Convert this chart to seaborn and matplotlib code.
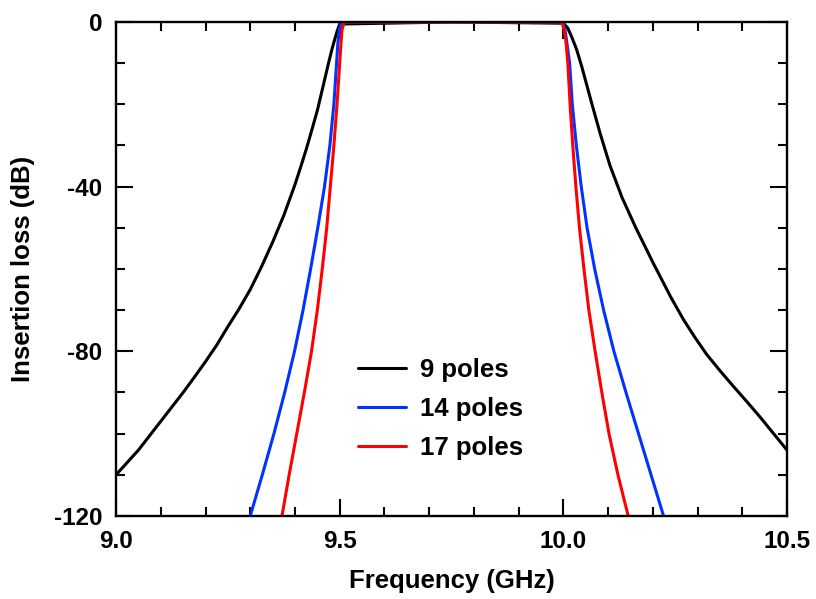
import pandas as pd
import seaborn as sns
import matplotlib.pyplot as plt
from matplotlib.ticker import MultipleLocator

# values (frequency in GHz, insertion loss in dB)
freq_9 = [9.000, 9.025, 9.050, 9.075, 9.100, 9.125, 9.150, 9.175, 9.200, 9.225,
          9.250, 9.275, 9.300, 9.325, 9.350, 9.375, 9.400, 9.412, 9.425, 9.437,
          9.450, 9.462, 9.475, 9.483, 9.490, 9.495, 9.500, 9.750,
          10.000, 10.010, 10.020, 10.030, 10.041, 10.052, 10.063, 10.082, 10.104,
          10.131, 10.162, 10.201, 10.240, 10.268, 10.294, 10.320, 10.350, 10.380,
          10.410, 10.440, 10.470, 10.500]
loss_9 = [-110, -107, -104, -100.5, -97, -93.5, -90, -86.3, -82.5, -78.5,
          -74, -69.7, -65, -59.5, -53.5, -47, -39.5, -35.5, -31, -26.5,
          -21.5, -16, -10, -6.5, -3.8, -2, -0.5, 0,
          -0.3, -1.5, -4, -6.8, -10.8, -15.2, -19.6, -27, -34.8,
          -42.6, -50, -58.6, -66.8, -72.2, -76.6, -80.7, -84.7, -88.5,
          -92.2, -96, -100, -104]

freq_14 = [9.300, 9.327, 9.353, 9.377, 9.399, 9.418, 9.435, 9.451, 9.466, 9.478,
           9.487, 9.493, 9.496, 9.499, 9.503, 9.510, 9.750, 9.995,
           10.000, 10.004, 10.009, 10.014, 10.020, 10.029, 10.040, 10.053, 10.070,
           10.090, 10.113, 10.140, 10.168, 10.196, 10.224]
loss_14 = [-120, -110, -100, -90, -80, -70, -60, -50, -40, -30,
           -20, -10, -5, -2, -0.5, 0, 0, 0,
           -0.5, -2, -6, -10, -20, -30, -40, -50, -60,
           -70, -80, -90, -100, -110, -120]

freq_17 = [9.371, 9.387, 9.404, 9.421, 9.437, 9.450, 9.461, 9.471, 9.479, 9.487,
           9.494, 9.500, 9.503, 9.505, 9.510, 9.750, 9.997,
           10.002, 10.006, 10.010, 10.015, 10.021, 10.028, 10.036, 10.046, 10.057,
           10.071, 10.086, 10.102, 10.122, 10.145]
loss_17 = [-120, -110, -100, -90, -80, -70, -60, -50, -40, -30,
           -20, -10, -5, -2, 0, 0, 0,
           -2, -5, -10, -20, -30, -40, -50, -60, -70,
           -80, -90, -100, -110, -120]

series_names = ['9 poles', '14 poles', '17 poles']
line_colors = ['#000000', '#0033ff', '#ff0000']

df = pd.concat([
    pd.DataFrame({'freq': f, 'loss': l, 'filter': name})
    for f, l, name in zip([freq_9, freq_14, freq_17],
                          [loss_9, loss_14, loss_17], series_names)
], ignore_index=True)

sns.set_style('white', {'axes.edgecolor': 'black', 'text.color': 'black',
                        'xtick.color': 'black', 'ytick.color': 'black',
                        'axes.labelcolor': 'black'})
plt.rcParams['font.family'] = ['Liberation Sans', 'DejaVu Sans']
plt.rcParams['font.weight'] = 'bold'
plt.rcParams['axes.unicode_minus'] = False

fig = plt.figure(figsize=(8.16, 5.99), dpi=100)
ax = fig.add_axes([0.1422, 0.1386, 0.8223, 0.8247])

sns.lineplot(data=df, x='freq', y='loss', hue='filter', hue_order=series_names,
             palette=line_colors, estimator=None, sort=False, linewidth=2.2, ax=ax)

ax.set_xlim(9.0, 10.5)
ax.set_ylim(-120, 0)
ax.xaxis.set_major_locator(MultipleLocator(0.5))
ax.xaxis.set_minor_locator(MultipleLocator(0.1))
ax.yaxis.set_major_locator(MultipleLocator(40))
ax.yaxis.set_minor_locator(MultipleLocator(10))

ax.tick_params(which='both', direction='in', bottom=True, left=True,
               top=True, right=True, width=1.5, labelsize=17.5, pad=10)
ax.tick_params(which='major', length=12)
ax.tick_params(which='minor', length=6.5)
for s in ax.spines.values():
    s.set_linewidth(1.7)
    s.set_color('black')

ax.set_xlabel('Frequency (GHz)', fontsize=18.5, fontweight='bold')
ax.set_ylabel('Insertion loss (dB)', fontsize=18.5, fontweight='bold')
ax.xaxis.set_label_coords(0.5, -0.108)
ax.yaxis.set_label_coords(-0.121, 0.5)

sns.move_legend(ax, 'upper left', bbox_to_anchor=(0.361, 0.319), title=None,
                frameon=False, prop={'size': 18.5, 'weight': 'bold'},
                handlelength=1.87, handletextpad=0.55, labelspacing=0.58,
                borderpad=0, borderaxespad=0)
for line in ax.get_legend().get_lines():
    line.set_linewidth(2.2)

fig.savefig('out.png', dpi=100)
